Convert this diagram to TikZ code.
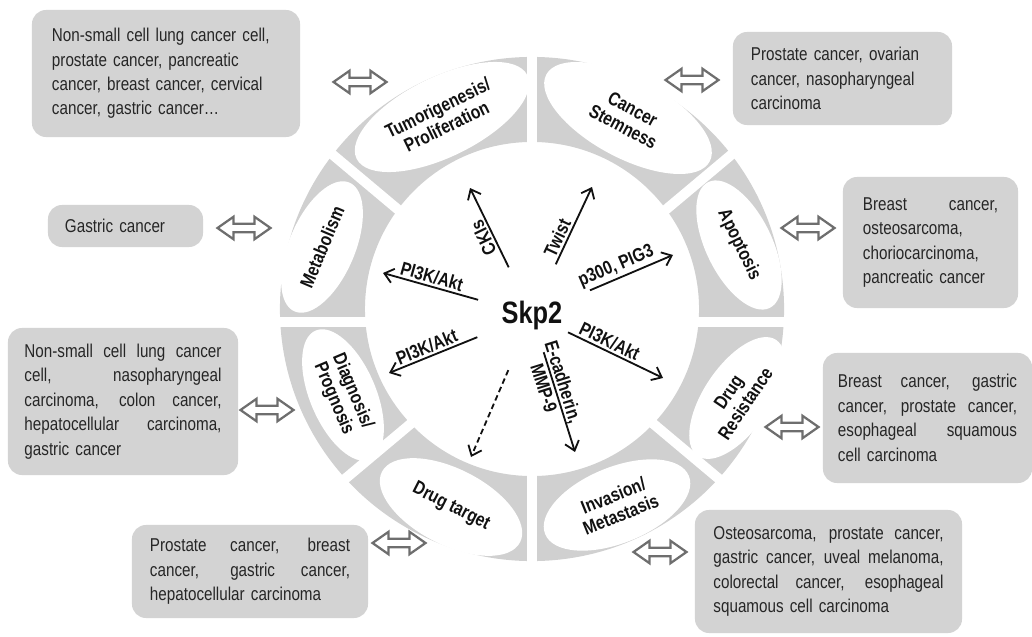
\documentclass[tikz,border=0pt]{standalone}
\usepackage{fontspec}
\setmainfont{Liberation Sans}[FakeStretch=0.82]
\usetikzlibrary{arrows.meta,shapes.geometric,shapes.arrows}
\definecolor{ink}{HTML}{111111}
\definecolor{boxtext}{HTML}{262626}
\definecolor{ringfill}{HTML}{D0D0D0}
\definecolor{boxfill}{HTML}{D3D3D3}
\definecolor{linkline}{HTML}{6E6E6E}
\newcommand{\boxsize}{\fontsize{13.2}{17.4}\selectfont}
\newcommand{\ovalsize}{\fontsize{13.5}{14.5}\selectfont\bfseries}
\newcommand{\tagsize}{\fontsize{13.5}{14.5}\selectfont\bfseries}
\newcommand{\jl}[1]{\leavevmode\hbox to \hsize{\spaceskip=\fontdimen2\font plus 1fil\relax #1}}
\tikzset{
 box/.style={fill=boxfill,rounded corners=.35cm,inner sep=0pt,align=left,font=\boxsize,text=boxtext},
 oval/.style={ellipse,fill=white,inner sep=0pt,align=center,font=\ovalsize,text=ink},
 gap/.style={draw=white,line width=.25cm},
 link/.style={double arrow,draw=linkline,fill=white,line width=1.6pt,inner xsep=0pt,inner ysep=.08cm,minimum height=1.325cm,double arrow head extend=.17cm,double arrow tip angle=70},
 arr/.style={-{Straight Barb[length=.22cm,width=.36cm]},draw=ink,line width=1.3pt},
 tag/.style={font=\tagsize,text=ink,inner sep=1.5pt},
}

\begin{document}
\begin{tikzpicture}[x=.025cm,y=-.025cm]

\useasboundingbox (0,0) rectangle (1032,637);
\coordinate (rc) at (532,309);
\coordinate (gc) at (532,322);
\fill[ringfill,even odd rule] (rc) circle (6.3cm) (rc) circle (4.175cm);
\foreach \a in {0,40,90,140} \draw[gap] (gc) ++(\a:280) -- ++(\a+180:560);

\node[oval,minimum width=4.75cm,minimum height=2cm,rotate=26] (eTum) at (442,117) {Tumorigenesis/\\Proliferation};
\node[oval,minimum width=4.625cm,minimum height=2cm,rotate=-28] (eStem) at (628,118) {Cancer\\Stemness};
\node[oval,minimum width=3.5cm,minimum height=1.65cm,rotate=-64] (eApo) at (739,245) {Apoptosis};
\node[oval,minimum width=3.5cm,minimum height=1.65cm,rotate=56] (eRes) at (737,398) {Drug\\Resistance};
\node[oval,minimum width=3.875cm,minimum height=1.9cm,rotate=22] (eInv) at (617,505) {Invasion/\\Metastasis};
\node[oval,minimum width=3.875cm,minimum height=1.9cm,rotate=-27] (eDrug) at (451,507) {Drug target};
\node[oval,minimum width=3.5cm,minimum height=1.65cm,rotate=-67] (eDia) at (343,395) {Diagnosis/\\Prognosis};
\node[oval,minimum width=3.5cm,minimum height=1.65cm,rotate=67] (eMet) at (322,247) {Metabolism};

\node[font=\fontsize{22}{24}\selectfont\bfseries,text=ink] (skp2) at (532,315) {Skp2};
\coordinate (tCki) at (470,188);
\coordinate (tTwist) at (592,187);
\coordinate (tApo) at (673,255);
\coordinate (tMet) at (383,273);
\coordinate (tDia) at (389,373);
\coordinate (tRes) at (663,378);
\coordinate (tInv) at (575,452);
\coordinate (tDrug) at (471,457);
\draw[arr,shorten <=1.325cm] (skp2.center) -- (tCki) node[tag,pos=.64,sloped,above,allow upside down] {CKIs};
\draw[arr,shorten <=1.4cm] (skp2.center) -- (tTwist) node[tag,pos=.57,sloped,above] {Twist};
\draw[arr,shorten <=1.575cm] (skp2.center) -- (tApo) node[tag,pos=.63,sloped,above] {p300, PIG3};
\draw[arr,shorten <=1.4cm] (skp2.center) -- (tMet) node[tag,pos=.69,sloped,above] {PI3K/Akt};
\draw[arr,shorten <=1.475cm] (skp2.center) -- (tDia) node[tag,pos=.71,sloped,above] {PI3K/Akt};
\draw[arr,shorten <=1cm] (skp2.center) -- (tRes) node[tag,pos=.56,sloped,above] {PI3K/Akt};
\draw[arr,shorten <=.975cm] (skp2.center) -- (tInv) node[tag,pos=.51,sloped,align=center] {E-cadherin,\\MMP-9};
\draw[arr,dash pattern=on 4pt off 2.5pt,shorten <=1.5cm] (skp2.center) -- (tDrug);

\node[link] (dTum) at (360,82) {};
\node[link] (dStem) at (692,80) {};
\node[link] (dMet) at (244,228) {};
\node[link] (dApo) at (808,228) {};
\node[link] (dDia) at (267,410) {};
\node[link] (dDrug) at (399,543) {};
\node[link] (dRes) at (792,427) {};
\node[link] (dInv) at (660,552) {};

\node[box,minimum width=6.7cm,minimum height=3.175cm,text width=5.7cm] (bTum) at (166,73.5) {Non-small cell lung cancer cell,\\prostate cancer, pancreatic\\cancer, breast cancer, cervical\\cancer, gastric cancer…};
\node[box,minimum width=5.475cm,minimum height=2.325cm,text width=4.575cm] (bStem) at (842.5,78.5) {Prostate cancer, ovarian\\cancer, nasopharyngeal\\carcinoma};
\node[box,minimum width=3.875cm,minimum height=1.05cm,text width=3.025cm] (bMet) at (125.5,226) {Gastric cancer};
\node[box,minimum width=4.375cm,minimum height=3.275cm,text width=3.375cm] (bApo) at (930.5,242.5) {\jl{Breast cancer,}\\osteosarcoma,\\choriocarcinoma,\\pancreatic cancer};
\node[box,minimum width=5.75cm,minimum height=3.675cm,text width=4.925cm] (bDia) at (123,401.5) {\jl{Non-small cell lung cancer}\\\jl{cell, nasopharyngeal}\\\jl{carcinoma, colon cancer,}\\\jl{hepatocellular carcinoma,}\\gastric cancer};
\node[box,minimum width=5.9cm,minimum height=2.325cm,text width=5cm] (bDrug) at (250,571.5) {\jl{Prostate cancer, breast}\\\jl{cancer, gastric cancer,}\\hepatocellular carcinoma};
\node[box,minimum width=5.225cm,minimum height=3.25cm,text width=4.475cm] (bRes) at (927.5,418) {\jl{Breast cancer, gastric}\\\jl{cancer, prostate cancer,}\\\jl{esophageal squamous}\\cell carcinoma};
\node[box,minimum width=6.675cm,minimum height=3.075cm,text width=5.75cm] (bInv) at (828.5,571.5) {\jl{Osteosarcoma, prostate cancer,}\\\jl{gastric cancer, uveal melanoma,}\\\jl{colorectal cancer, esophageal}\\squamous cell carcinoma};

\end{tikzpicture}
\end{document}
